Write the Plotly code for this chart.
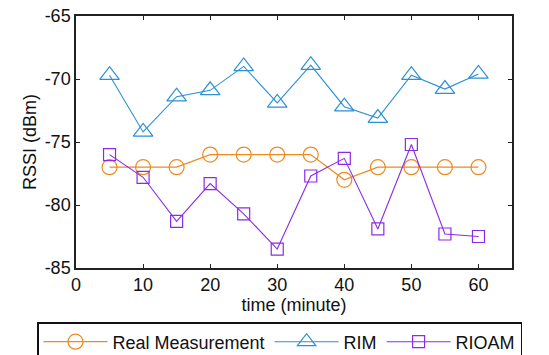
import plotly.graph_objects as go

time_min = [5, 10, 15, 20, 25, 30, 35, 40, 45, 50, 55, 60]
real_measurement = [-77, -77, -77, -76, -76, -76, -76, -78, -77, -77, -77, -77]
rim = [-69.7, -74.2, -71.4, -70.9, -69.0, -71.9, -68.9, -72.2, -73.1, -69.7, -70.8, -69.6]
rioam = [-76.0, -77.8, -81.3, -78.3, -80.7, -83.5, -77.7, -76.3, -81.9, -75.2, -82.3, -82.5]

x_ticks = [0, 10, 20, 30, 40, 50, 60]
y_ticks = [-85, -80, -75, -70, -65]
y_tick_text = ["-85", "-80", "-75", "-70", "-65"]

FONT = "Liberation Sans, Arial, sans-serif"

fig = go.Figure()
fig.add_trace(go.Scatter(
    x=time_min, y=real_measurement, name="Real Measurement", mode="lines+markers",
    line=dict(color="#EE8A22", width=1.3),
    marker=dict(symbol="circle-open", size=15, color="#EE8A22", line=dict(width=1.2)),
))
fig.add_trace(go.Scatter(
    x=time_min, y=rim, name="RIM", mode="lines+markers",
    line=dict(color="#2B90D4", width=1.1),
    marker=dict(symbol="triangle-up-open", size=17, color="#2B90D4", line=dict(width=1.2)),
))
fig.add_trace(go.Scatter(
    x=time_min, y=rioam, name="RIOAM", mode="lines+markers",
    line=dict(color="#8B2BE8", width=1.1),
    marker=dict(symbol="square-open", size=12, color="#8B2BE8", line=dict(width=1.2)),
))

axis_common = dict(
    showgrid=False, zeroline=False, showline=True, linecolor="#222", linewidth=1.5,
    mirror="ticks", ticks="inside", ticklen=4, tickcolor="#222", automargin=False,
    tickfont=dict(family=FONT, size=18, color="#111"),
)

L, R, T, B = 76, 37, 16, 87
W, H = 549, 355
pw, ph = W - L - R, H - T - B

fig.update_layout(
    width=W, height=H,
    margin=dict(l=L, r=R, t=T, b=B, autoexpand=False),
    paper_bgcolor="white", plot_bgcolor="white",
    font=dict(family=FONT, size=18, color="#111"),
    xaxis=dict(range=[0, 65], tickvals=x_ticks, **axis_common,
               title=dict(text="time (minute)", font=dict(family=FONT, size=18), standoff=2)),
    yaxis=dict(range=[-85, -65], tickvals=y_ticks, ticktext=y_tick_text, **axis_common,
               title=dict(text="RSSI (dBm)", font=dict(family=FONT, size=18), standoff=3)),
    showlegend=True,
    legend=dict(
        orientation="h", xref="paper", yref="paper",
        x=(37 - L) / pw, xanchor="left", y=-(322 - (T + ph)) / ph, yanchor="top",
        bordercolor="#111", borderwidth=1.5, bgcolor="white",
        font=dict(family=FONT, size=18, color="#111"),
        itemwidth=64,
    ),
)

fig.write_html("out.html", config={"displayModeBar": False},
               post_script="document.body.style.margin='0';")
